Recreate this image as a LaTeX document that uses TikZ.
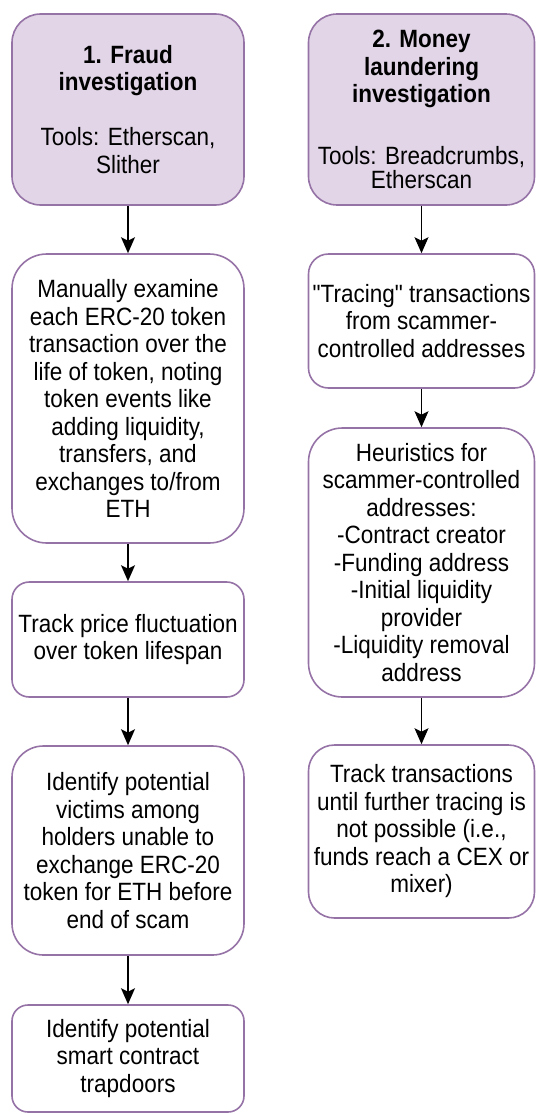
\documentclass[tikz,border=0pt]{standalone}
\usepackage{fontspec}
\usetikzlibrary{arrows.meta}
\newfontfamily\labfont[FakeStretch=0.9]{Liberation Sans}
\newcommand\boxfont{\labfont\fontsize{25pt}{27.5pt}\selectfont}
\definecolor{pbord}{HTML}{9673A6}
\definecolor{pfill}{HTML}{E1D5E7}
\begin{document}
\begin{tikzpicture}[x=1pt,y=-1pt,
  box/.style={draw=pbord, line width=1.6pt, fill=white, align=center,
    inner sep=0pt, font=\boxfont},
  lbox/.style={box, minimum width=232pt},
  rbox/.style={box, minimum width=226pt},
  head/.style={fill=pfill},
  arr/.style={draw=black, line width=1.5pt,
    -{Stealth[length=16pt,width=14pt,inset=3.5pt]}}]
\useasboundingbox (0,0) rectangle (536,1114);
% left column
\node[lbox, head, minimum height=191pt, rounded corners=28.6pt] (L1) at (128,109.5)
  {\textbf{1. Fraud}\\\textbf{investigation}\\[27.5pt]Tools: Etherscan,\\Slither};
\node[lbox, minimum height=289pt, rounded corners=34.8pt] (L2) at (128,398.5)
  {Manually examine\\each ERC-20 token\\transaction over the\\life of token, noting\\token events like\\adding liquidity,\\transfers, and\\exchanges to/from\\ETH};
\node[lbox, minimum height=115pt, rounded corners=17.3pt] (L3) at (128,639.5)
  {Track price fluctuation\\over token lifespan};
\node[lbox, minimum height=209pt, rounded corners=31.4pt] (L4) at (128,850.5)
  {Identify potential\\victims among\\holders unable to\\exchange ERC-20\\token for ETH before\\end of scam};
\node[lbox, minimum height=107pt, rounded corners=16pt] (L5) at (128,1058.5)
  {Identify potential\\smart contract\\trapdoors};
% right column
\node[rbox, head, minimum height=191pt, rounded corners=28.6pt] (R1) at (421.5,109.5)
  {\textbf{2. Money}\\\textbf{laundering}\\\textbf{investigation}\\[34pt]Tools: Breadcrumbs,\\[-3pt]Etherscan};
\node[rbox, minimum height=134pt, rounded corners=20pt] (R2) at (421.5,321)
  {"Tracing" transactions\\from scammer-\\controlled addresses};
\node[rbox, minimum height=269pt, rounded corners=33.9pt] (R3) at (421.5,562.5)
  {Heuristics for\\scammer-controlled\\addresses:\\-Contract creator\\-Funding address\\-Initial liquidity\\provider\\-Liquidity removal\\address};
\node[rbox, minimum height=173pt, rounded corners=26pt] (R4) at (421.5,831.5)
  {Track transactions\\until further tracing is\\not possible (i.e.,\\funds reach a CEX or\\mixer)};
% connectors
\draw[arr] (L1) -- (L2);
\draw[arr] (L2) -- (L3);
\draw[arr] (L3) -- (L4);
\draw[arr] (L4) -- (L5);
\draw[arr] (R1) -- (R2);
\draw[arr] (R2) -- (R3);
\draw[arr] (R3) -- (R4);
\end{tikzpicture}
\end{document}
